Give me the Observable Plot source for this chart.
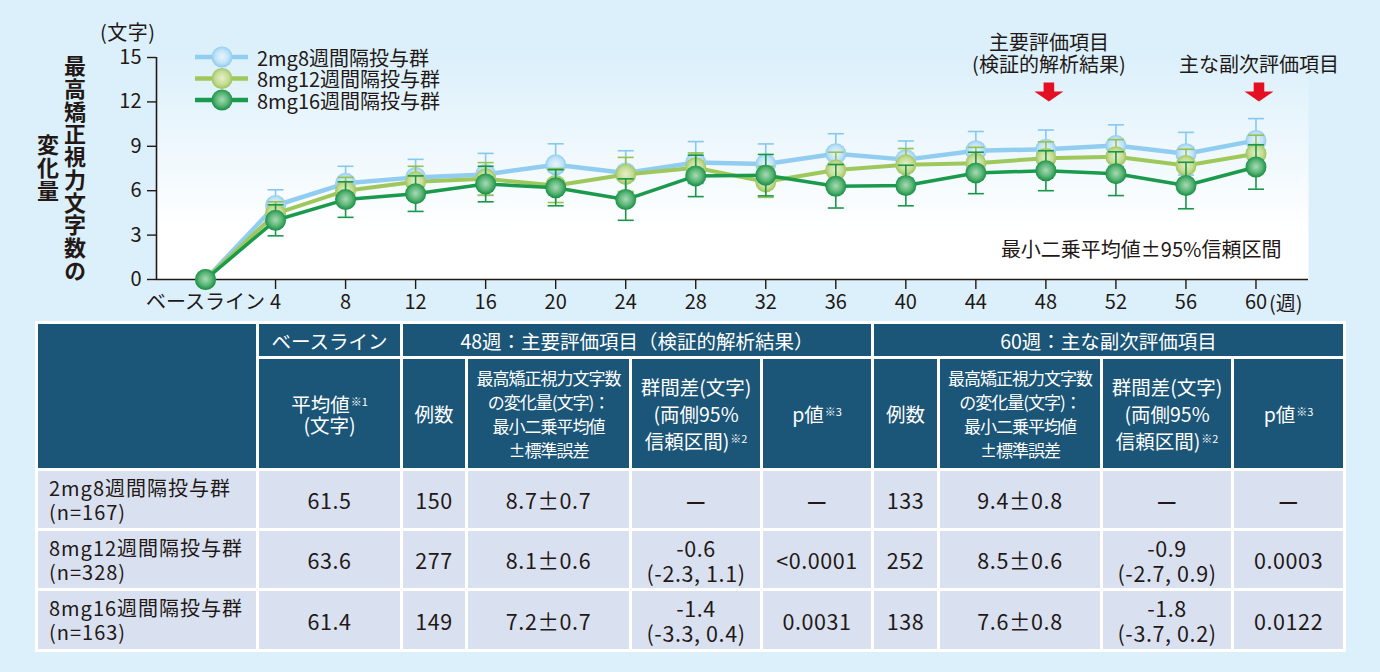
<!DOCTYPE html>
<html><head><meta charset="utf-8">
<script src="https://cdn.jsdelivr.net/npm/d3@7"></script>
<script src="https://cdn.jsdelivr.net/npm/@observablehq/plot@0.6"></script>
<style>
body{margin:0;background:#dcf0fb;font-family:"Noto Sans CJK JP","Noto Sans",sans-serif;color:#231815;}
#wrap{position:relative;width:1380px;height:672px;overflow:hidden;}
#chart{position:absolute;left:0;top:0;}
#ytitle{position:absolute;left:32px;top:55px;height:227px;width:56px;writing-mode:vertical-rl;text-align:center;line-height:27px;font-size:22px;font-weight:700;letter-spacing:0.7px;}
#unit{position:absolute;left:100px;top:20px;font-size:20px;line-height:24px;letter-spacing:0.5px;}
#legend{position:absolute;left:0;top:0;}
#tbl{position:absolute;left:35px;top:321px;border-collapse:separate;border-spacing:3px;background:#fff;table-layout:fixed;width:1311px;}
#tbl td,#tbl th{padding:0;text-align:center;vertical-align:middle;}
#tbl th{background:#1b5577;color:#fff;font-weight:normal;}
#tbl td{background:#d9e1f1;color:#231815;font-size:21.5px;line-height:25px;letter-spacing:0.6px;}
#tbl .h1{font-size:19.5px;height:32px;}
#tbl .h2{font-size:19.5px;line-height:21px;height:109px;}
#tbl .h2.long{font-size:17px;letter-spacing:-1px;line-height:24px;}
#tbl .h2.diff{line-height:27px;}
#tbl td.grp{text-align:left;font-size:20px;line-height:24px;letter-spacing:1px;}
#tbl td.grp div{padding-left:11px;}
#tbl td .dash{font-weight:700;}
sup{font-size:11px;vertical-align:6px;line-height:0;margin-left:1px;}
</style></head><body>
<svg width="0" height="0" style="position:absolute">
 <defs>
  <linearGradient id="bgGrad" x1="0" y1="0" x2="0" y2="1">
   <stop offset="0" stop-color="#dcf0fb"/><stop offset="0.78" stop-color="#ffffff"/><stop offset="1" stop-color="#ffffff"/>
  </linearGradient>
  <radialGradient id="gBlue" cx="0.5" cy="0.48" r="0.5"><stop offset="0" stop-color="#e6f5fd"/><stop offset="0.65" stop-color="#bfe3f7"/><stop offset="1" stop-color="#8fcbee"/></radialGradient>
  <radialGradient id="gLight" cx="0.5" cy="0.48" r="0.5"><stop offset="0" stop-color="#e6efc8"/><stop offset="0.65" stop-color="#c4dc95"/><stop offset="1" stop-color="#9fc55c"/></radialGradient>
  <radialGradient id="gDark" cx="0.5" cy="0.48" r="0.5"><stop offset="0" stop-color="#a9dab5"/><stop offset="0.6" stop-color="#5cb677"/><stop offset="1" stop-color="#1b9148"/></radialGradient>
 </defs>
</svg>
<div id="wrap">
<div id="chart"></div>
<div id="ytitle">最高矯正視力文字数の<br>変化量</div>
<div id="unit">(文字)</div>
<svg id="legend" width="460" height="120"></svg>
<table id="tbl"></table>
</div>
<script>
// ---- chart data ----
const weeks = [0,4,8,12,16,20,24,28,32,36,40,44,48,52,56,60];
const groupNames = ["2mg8週間隔投与群","8mg12週間隔投与群","8mg16週間隔投与群"];
const mean2mg8  = [0,5.0,6.5,6.9,7.1,7.75,7.2,7.9,7.8,8.5,8.1,8.7,8.8,9.05,8.5,9.4];
const ci2mg8    = [null,1.06,1.15,1.22,1.42,1.42,1.5,1.42,1.36,1.35,1.26,1.3,1.3,1.4,1.44,1.47];
const mean8mg12 = [0,4.45,6.0,6.6,6.8,6.35,7.1,7.55,6.6,7.4,7.75,7.85,8.2,8.3,7.7,8.5];
const ci8mg12   = [null,0.8,0.9,1.05,1.1,1.15,1.15,1.0,1.05,1.2,1.1,1.08,1.1,1.15,1.1,1.25];
const mean8mg16 = [0,4.0,5.4,5.8,6.45,6.2,5.4,7.0,7.05,6.3,6.35,7.2,7.35,7.15,6.35,7.6];
const ci8mg16   = [null,1.05,1.2,1.2,1.2,1.22,1.4,1.4,1.4,1.47,1.37,1.4,1.35,1.48,1.57,1.5];
const xTicks = [4,8,12,16,20,24,28,32,36,40,44,48,52,56,60];
const yTicks = [0,3,6,9,12,15];
const xDomain = [-2.8, 63];
const yDomain = [0, 15];
const baselineLabel = "ベースライン";
const weekUnit = "(週)";
const annoWeeks = [48, 60];
const annoPrimary1 = "主要評価項目";
const annoPrimary2 = "(検証的解析結果)";
const annoSecondary = "主な副次評価項目";
const ciNote = "最小二乗平均値±95%信頼区間";

// ---- table data ----
const groupN = ["(n=167)","(n=328)","(n=163)"];
const baselineMean = ["61.5","63.6","61.4"];
const n48 = ["150","277","149"];
const lsm48 = ["8.7±0.7","8.1±0.6","7.2±0.7"];
const diff48 = [null,"-0.6","-1.4"];
const diffCI48 = [null,"(-2.3, 1.1)","(-3.3, 0.4)"];
const p48 = [null,"<0.0001","0.0031"];
const n60 = ["133","252","138"];
const lsm60 = ["9.4±0.8","8.5±0.6","7.6±0.8"];
const diff60 = [null,"-0.9","-1.8"];
const diffCI60 = [null,"(-2.7, 0.9)","(-3.7, 0.2)"];
const p60 = [null,"0.0003","0.0122"];

const series = [
  {name: groupNames[0], mean: mean2mg8, ci: ci2mg8, color: "#90cdf0", bar: "#86c8ee", grad: "url(#gBlue)", w: 4.5},
  {name: groupNames[1], mean: mean8mg12, ci: ci8mg12, color: "#9fc85c", bar: "#97c250", grad: "url(#gLight)", w: 4},
  {name: groupNames[2], mean: mean8mg16, ci: ci8mg16, color: "#1a9a4c", bar: "#1a9649", grad: "url(#gDark)", w: 3.5}
];

const capSymbol = {draw(ctx, size){ const s = Math.sqrt(size/Math.PI); ctx.moveTo(-s,0); ctx.lineTo(s,0); }};
const arrowSymbol = {draw(ctx, size){
  const k = Math.sqrt(size/Math.PI)/10;
  const pts = [[-5.3,-9.5],[5.3,-9.5],[5.3,-0.5],[14.5,-0.5],[0,9.5],[-14.5,-0.5],[-5.3,-0.5]];
  ctx.moveTo(pts[0][0]*k, pts[0][1]*k);
  for (const p of pts.slice(1)) ctx.lineTo(p[0]*k, p[1]*k);
  ctx.closePath();
}};

const dataMarks = series.flatMap(s => {
  const rows = weeks.map((w,i) => ({week: w, mean: s.mean[i], lo: s.ci[i] == null ? null : s.mean[i]-s.ci[i], hi: s.ci[i] == null ? null : s.mean[i]+s.ci[i]}));
  const bars = rows.filter(d => d.lo != null);
  return [
    Plot.ruleX(bars, {x: "week", y1: "lo", y2: "hi", stroke: s.bar, strokeWidth: 1.6}),
    Plot.dot(bars, {x: "week", y: "lo", symbol: capSymbol, r: 8, stroke: s.bar, fill: "none", strokeWidth: 1.6}),
    Plot.dot(bars, {x: "week", y: "hi", symbol: capSymbol, r: 8, stroke: s.bar, fill: "none", strokeWidth: 1.6}),
    Plot.line(rows, {x: "week", y: "mean", stroke: s.color, strokeWidth: s.w}),
    Plot.dot(rows, {x: "week", y: "mean", r: 10.5, fill: s.grad, stroke: "none"})
  ];
});

const chart = Plot.plot({
  width: 1380, height: 318,
  marginLeft: 156, marginRight: 72, marginTop: 57, marginBottom: 39,
  x: {domain: xDomain},
  y: {domain: yDomain},
  style: {background: "transparent", fontFamily: "'Noto Sans CJK JP', sans-serif", color: "#231815", overflow: "visible"},
  marks: [
    Plot.frame({fill: "url(#bgGrad)", stroke: "none"}),
    Plot.axisY({ticks: yTicks, tickSize: 9, tickPadding: 6, fontSize: 20, label: null, strokeWidth: 1.4, tickFormat: d => String(d)}),
    Plot.axisX({ticks: xTicks, tickSize: 10, tickPadding: 5, fontSize: 20, label: null, strokeWidth: 1.4, tickFormat: d => String(d)}),
    Plot.axisX({ticks: [0], tickSize: 0, tickPadding: 15, fontSize: 20, label: null, tickFormat: () => baselineLabel}),
    Plot.text([weekUnit], {x: () => xTicks[xTicks.length-1], text: d => d, frameAnchor: "bottom", lineAnchor: "middle", dy: 25, dx: 13, textAnchor: "start", fontSize: 20}),
    Plot.ruleY([yDomain[0]], {stroke: "#231815", strokeWidth: 1.6}),
    Plot.ruleX([xDomain[0]], {y1: yDomain[0], y2: yDomain[1], stroke: "#231815", strokeWidth: 1.6}),
    Plot.text([annoPrimary1], {x: () => annoWeeks[0], text: d => d, frameAnchor: "top", lineAnchor: "middle", dy: -14, dx: 3, fontSize: 20, letterSpacing: 0.5}),
    Plot.text([annoPrimary2], {x: () => annoWeeks[0], text: d => d, frameAnchor: "top", lineAnchor: "middle", dy: 8, dx: 3, fontSize: 20, letterSpacing: 0.5}),
    Plot.text([annoSecondary], {x: () => annoWeeks[1], text: d => d, frameAnchor: "top", lineAnchor: "middle", dy: 8, dx: 3, fontSize: 20, letterSpacing: 0.5}),
    Plot.dot(annoWeeks, {x: d => d, frameAnchor: "top", dy: 34.5, dx: 3, symbol: arrowSymbol, r: 10, fill: "#e50f23", stroke: "none"}),
    Plot.text([ciNote], {frameAnchor: "bottom-right", lineAnchor: "middle", dx: -27, dy: -29, textAnchor: "end", fontSize: 20}),
    ...dataMarks
  ]
});
document.getElementById("chart").append(chart);

// legend
const lg = d3.select("#legend");
series.forEach((s, i) => {
  const y = 57 + i * 21.5;
  lg.append("line").attr("x1", 195).attr("x2", 248).attr("y1", y).attr("y2", y).attr("stroke", s.color).attr("stroke-width", 4.5);
  lg.append("circle").attr("cx", 222).attr("cy", y).attr("r", 10.5).attr("fill", s.grad);
  lg.append("text").attr("x", 257).attr("y", y).attr("dominant-baseline", "central")
    .attr("font-size", 20).attr("fill", "#231815").attr("font-family", "'Noto Sans CJK JP', sans-serif").text(s.name);
});

// table
const tbl = document.getElementById("tbl");
const colW = [218,141,62,161,128,108,63,160,128,109];
const cg = document.createElement("colgroup");
colW.forEach(w => { const c = document.createElement("col"); c.style.width = w + "px"; cg.append(c); });
tbl.append(cg);
function cell(tag, html, cls, attrs) {
  const el = document.createElement(tag);
  if (cls) el.className = cls;
  el.innerHTML = html;
  if (attrs) for (const k in attrs) el.setAttribute(k, attrs[k]);
  return el;
}
const esc = s => s.replace(/&/g,"&amp;").replace(/</g,"&lt;");
const head1 = ["ベースライン","48週：主要評価項目（検証的解析結果）","60週：主な副次評価項目"];
const head2Base = "平均値<sup>※1</sup><br>(文字)";
const head2N = "例数";
const head2LSM = "最高矯正視力文字数<br>の変化量(文字)：<br>最小二乗平均値<br>±標準誤差";
const head2Diff = "群間差(文字)<br>(両側95%<br>信頼区間)<sup>※2</sup>";
const head2P = "p値<sup>※3</sup>";
const tr1 = document.createElement("tr");
tr1.append(cell("th", "", "", {rowspan: 2}));
tr1.append(cell("th", head1[0], "h1"));
tr1.append(cell("th", head1[1], "h1", {colspan: 4}));
tr1.append(cell("th", head1[2], "h1", {colspan: 4}));
tbl.append(tr1);
const tr2 = document.createElement("tr");
tr2.append(cell("th", head2Base, "h2"));
for (let k = 0; k < 2; k++) {
  tr2.append(cell("th", head2N, "h2"));
  tr2.append(cell("th", head2LSM, "h2 long"));
  tr2.append(cell("th", head2Diff, "h2 diff"));
  tr2.append(cell("th", head2P, "h2"));
}
tbl.append(tr2);
const dash = '<span class="dash">—</span>';
const rowH = [57,57,58];
groupNames.forEach((g, i) => {
  const tr = document.createElement("tr");
  tr.style.height = rowH[i] + "px";
  tr.append(cell("td", `<div>${g}<br>${groupN[i]}</div>`, "grp"));
  tr.append(cell("td", baselineMean[i]));
  tr.append(cell("td", n48[i]));
  tr.append(cell("td", lsm48[i]));
  tr.append(cell("td", diff48[i] == null ? dash : `${diff48[i]}<br>${diffCI48[i]}`));
  tr.append(cell("td", p48[i] == null ? dash : esc(p48[i])));
  tr.append(cell("td", n60[i]));
  tr.append(cell("td", lsm60[i]));
  tr.append(cell("td", diff60[i] == null ? dash : `${diff60[i]}<br>${diffCI60[i]}`));
  tr.append(cell("td", p60[i] == null ? dash : esc(p60[i])));
  tbl.append(tr);
});
</script>
</body></html>
